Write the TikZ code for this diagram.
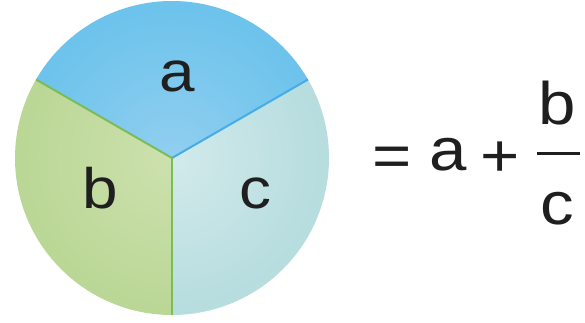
\documentclass[tikz,border=0pt]{standalone}
\usepackage{fontspec}
\setmainfont{Liberation Sans}
\usetikzlibrary{calc}
\definecolor{bluein}{RGB}{145,207,240}
\definecolor{bluemid}{RGB}{112,196,236}
\definecolor{blueout}{RGB}{85,186,233}
\definecolor{blueedge}{RGB}{60,170,226}
\definecolor{greenin}{RGB}{205,225,174}
\definecolor{greenmid}{RGB}{188,216,152}
\definecolor{greenout}{RGB}{168,206,132}
\definecolor{greenedge}{RGB}{140,192,100}
\definecolor{tealin}{RGB}{210,234,235}
\definecolor{tealmid}{RGB}{185,222,224}
\definecolor{tealout}{RGB}{165,212,215}
\definecolor{tealedge}{RGB}{140,200,206}
\definecolor{blueline}{RGB}{70,172,230}
\definecolor{greenline}{RGB}{125,188,85}
\pgfdeclareradialshading{blueshade}{\pgfpoint{0bp}{0bp}}{color(0bp)=(bluein); color(22bp)=(bluemid); color(44bp)=(blueout); color(50bp)=(blueedge)}
\pgfdeclareradialshading{greenshade}{\pgfpoint{0bp}{0bp}}{color(0bp)=(greenin); color(22bp)=(greenmid); color(44bp)=(greenout); color(50bp)=(greenedge)}
\pgfdeclareradialshading{tealshade}{\pgfpoint{0bp}{0bp}}{color(0bp)=(tealin); color(22bp)=(tealmid); color(44bp)=(tealout); color(50bp)=(tealedge)}
\tikzset{
  lbl/.style={inner sep=0pt, anchor=base, font=\fontsize{57}{60}\selectfont, text=black!88},
  flbl/.style={inner sep=0pt, anchor=base, font=\fontsize{60}{64}\selectfont, text=black!88},
  divider/.style={line width=2pt},
  fracbar/.style={line width=3pt, black!88},
}
\newcommand{\wide}[1]{\scalebox{1.12}[1]{#1}}
\begin{document}
\begin{tikzpicture}[x=1pt,y=-1pt]
\useasboundingbox (0,0) rectangle (585,323);
\def\R{157}
\coordinate (o) at (172,158);
\coordinate (ul) at ($(o)+(210:\R)$);
\coordinate (ur) at ($(o)+(330:\R)$);
\coordinate (bt) at ($(o)+(90:\R)$);
% blue sector (top)
\begin{scope}
  \clip (o) -- (ul) arc[start angle=210, end angle=330, radius=\R] -- cycle;
  \shade[shading=blueshade] (o) circle[radius=\R];
\end{scope}
% green sector (lower left)
\begin{scope}
  \clip (o) -- (bt) arc[start angle=90, end angle=210, radius=\R] -- cycle;
  \shade[shading=greenshade] (o) circle[radius=\R];
\end{scope}
% teal sector (lower right)
\begin{scope}
  \clip (o) -- (ur) arc[start angle=-30, end angle=90, radius=\R] -- cycle;
  \shade[shading=tealshade] (o) circle[radius=\R];
\end{scope}
\draw[divider, greenline] (o) -- (ul);
\draw[divider, blueline] (o) -- (ur);
\draw[divider, greenline] (o) -- (bt);
% labels
\node[lbl] (la) at (177,92) {\wide{a}};
\node[lbl] (lb) at (100,208) {\wide{b}};
\node[lbl] (lc) at (255,208) {\wide{c}};
% formula
\node[flbl] (eq) at (392,176) {\wide{=}};
\node[flbl] (fa) at (448,170) {\wide{a}};
\node[flbl] (pl) at (500,176) {\wide{+}};
\node[flbl] (fb) at (557,125) {\wide{b}};
\node[flbl] (fc) at (557,224) {\wide{c}};
\coordinate (barl) at (537,153);
\coordinate (barr) at (580,153);
\draw[fracbar] (barl) -- (barr);
\end{tikzpicture}
\end{document}
